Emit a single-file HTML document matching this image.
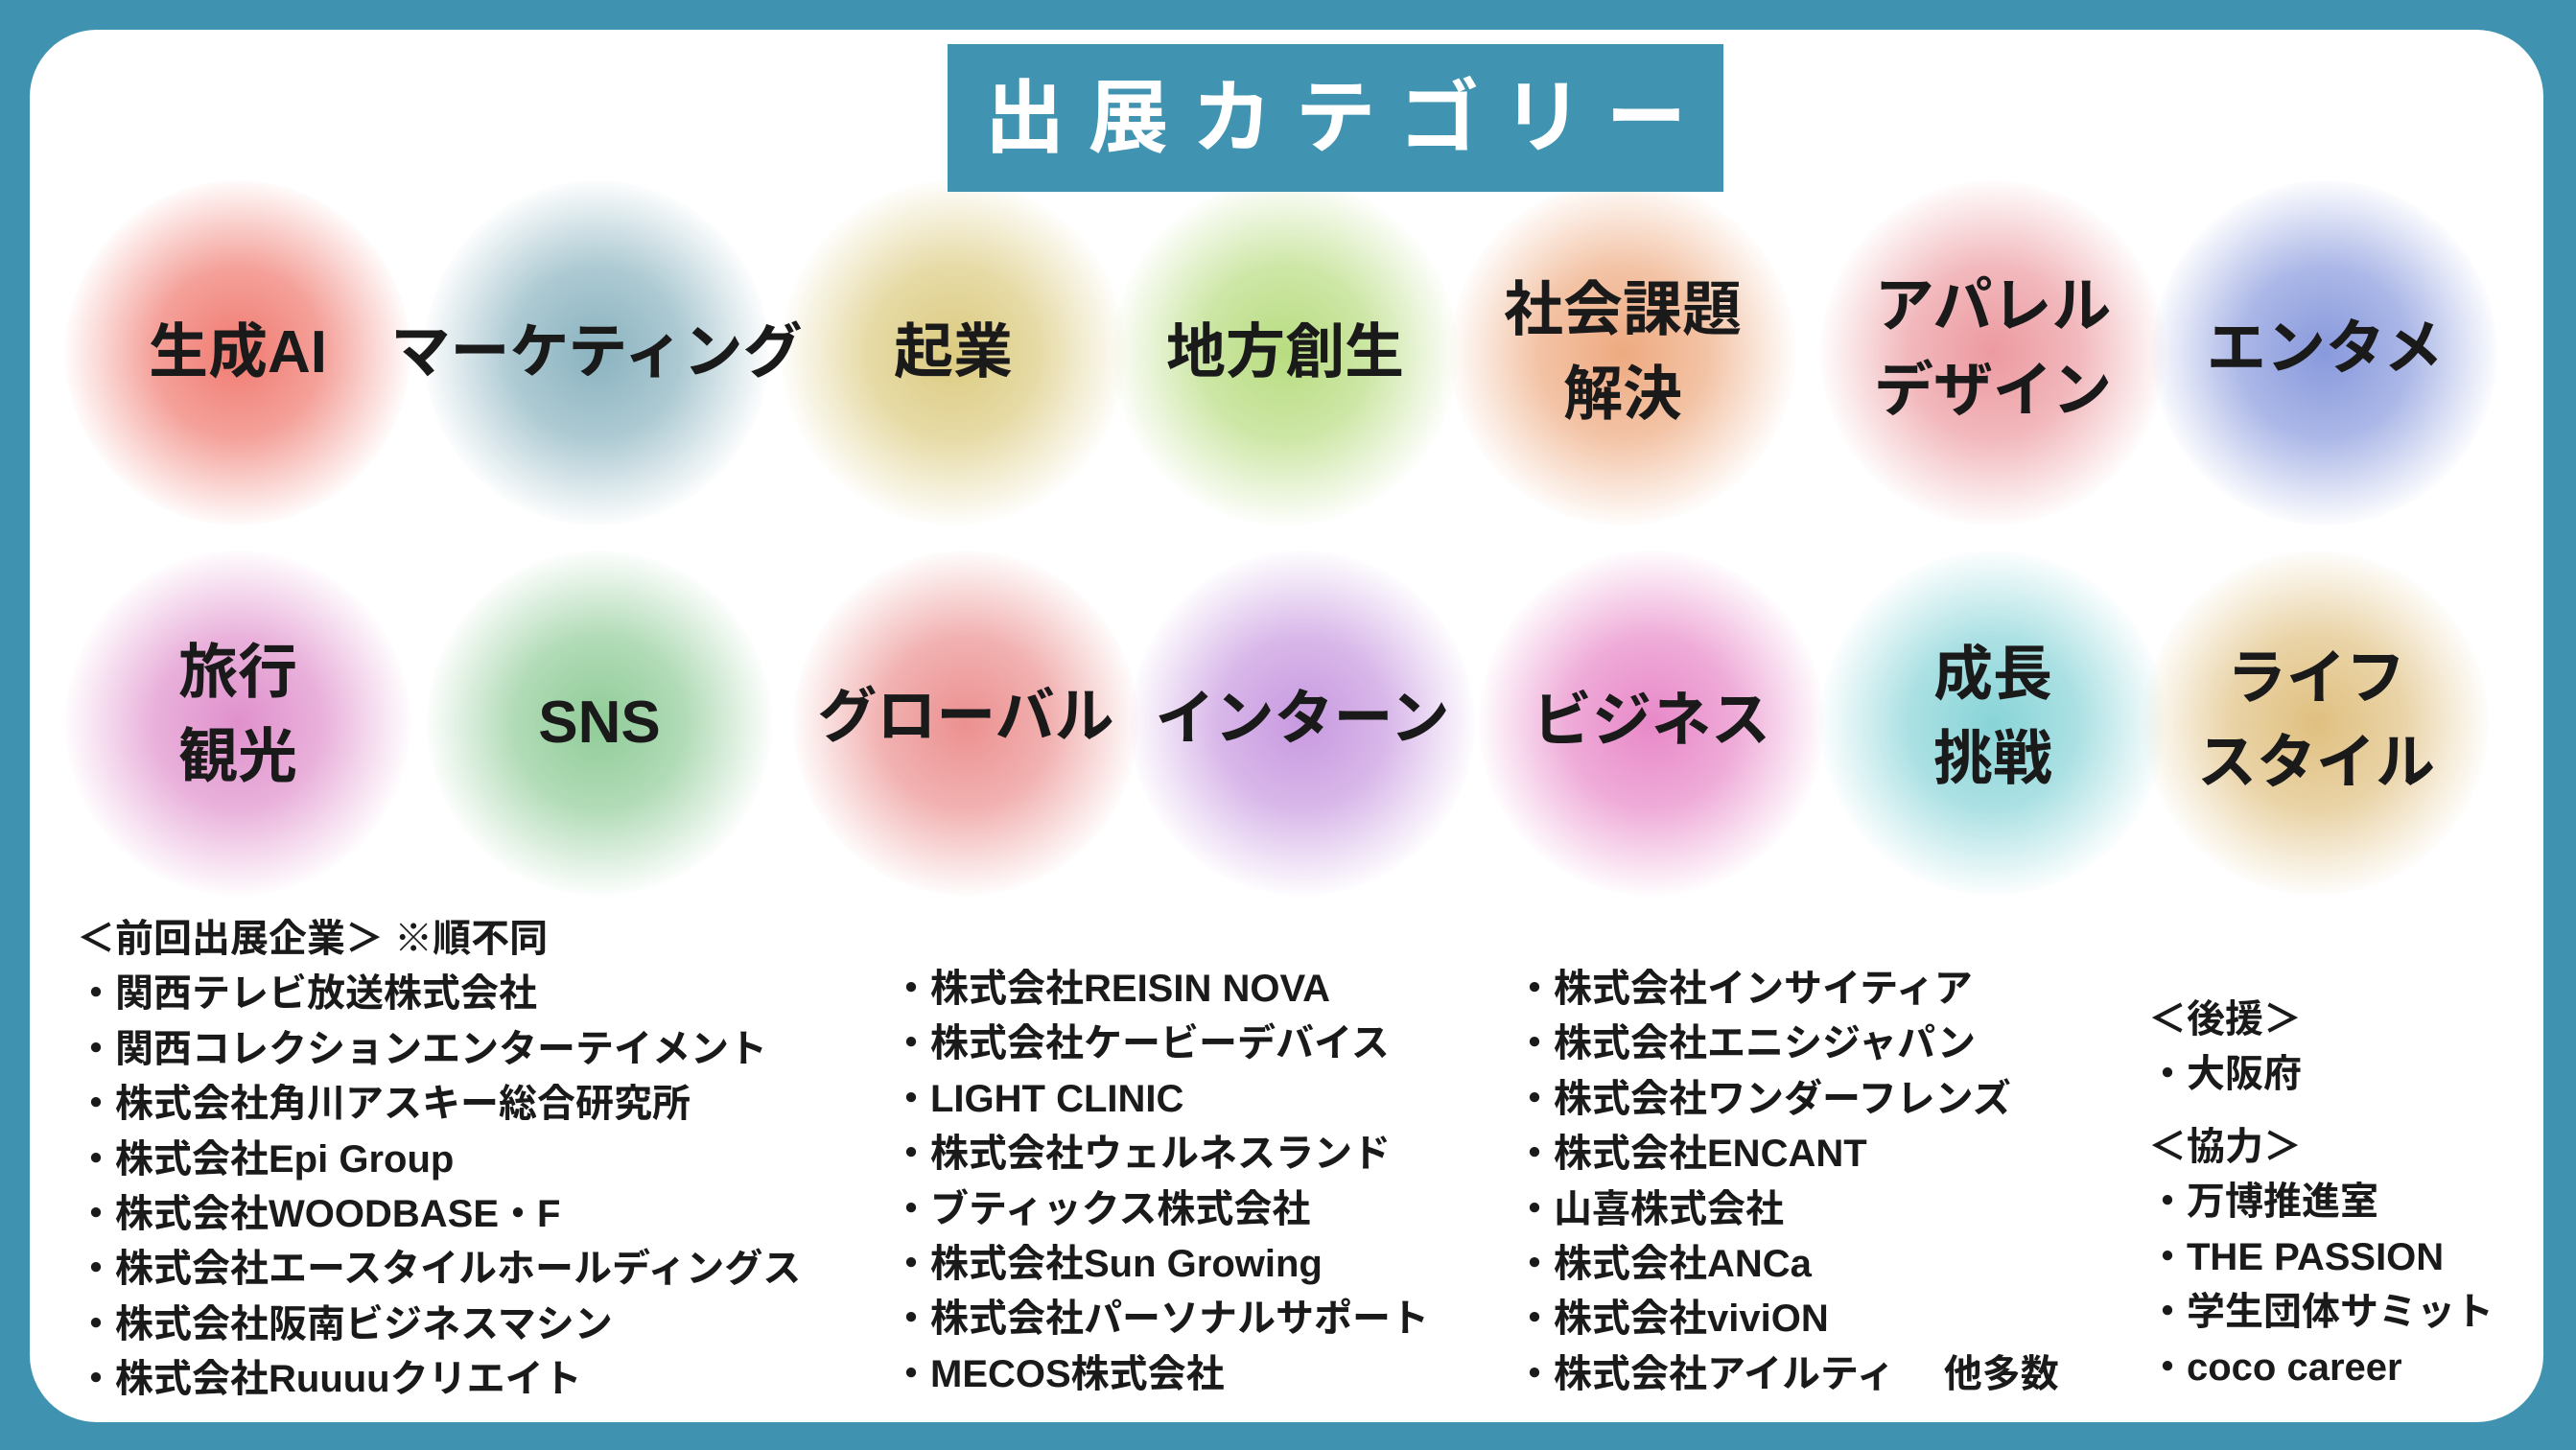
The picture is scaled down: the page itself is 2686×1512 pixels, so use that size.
<!DOCTYPE html>
<html><head><meta charset="utf-8"><style>
*{margin:0;padding:0;box-sizing:border-box}
body{width:2686px;height:1512px;background:#4093b0;position:relative;overflow:hidden;font-family:"Liberation Sans","Noto Sans CJK JP",sans-serif;font-weight:700;color:#1a1a1a}
.panel{position:absolute;left:31px;top:31px;width:2621px;height:1452px;background:#fff;border-radius:70px}
.title{position:absolute;z-index:5;left:988px;top:46px;width:809px;height:154px;background:#4194b1;color:#fff;font-size:84px;letter-spacing:24px;text-align:center;line-height:154px;padding-left:24px}
.c{position:absolute;width:360px;height:360px;border-radius:50%;transform:translate(-50%,-50%)}
.l{position:absolute;transform:translate(-50%,-50%);font-size:62px;line-height:88px;text-align:center;white-space:nowrap}
.t{position:absolute;font-size:40px;line-height:57.4px;white-space:nowrap}
</style></head><body>
<div class="panel"></div>
<div class="title">出展カテゴリー</div>

<div class="c" style="left:248px;top:368px;background:radial-gradient(circle,#f07a70 0%,rgba(240,122,112,.7) 35%,rgba(240,122,112,0) 72%)"></div>
<div class="c" style="left:622px;top:368px;background:radial-gradient(circle,#8ab3c0 0%,rgba(138,179,192,.7) 35%,rgba(138,179,192,0) 72%)"></div>
<div class="c" style="left:994px;top:368px;background:radial-gradient(circle,#dccb80 0%,rgba(220,203,128,.7) 35%,rgba(220,203,128,0) 72%)"></div>
<div class="c" style="left:1340px;top:368px;background:radial-gradient(circle,#b8dc80 0%,rgba(184,220,128,.7) 35%,rgba(184,220,128,0) 72%)"></div>
<div class="c" style="left:1692px;top:368px;background:radial-gradient(circle,#eeaa80 0%,rgba(238,170,128,.7) 35%,rgba(238,170,128,0) 72%)"></div>
<div class="c" style="left:2078px;top:368px;background:radial-gradient(circle,#ec9aa0 0%,rgba(236,154,160,.7) 35%,rgba(236,154,160,0) 72%)"></div>
<div class="c" style="left:2424px;top:368px;background:radial-gradient(circle,#8899dd 0%,rgba(136,153,221,.7) 35%,rgba(136,153,221,0) 72%)"></div>

<div class="c" style="left:248px;top:754px;background:radial-gradient(circle,#e090cc 0%,rgba(224,144,204,.7) 35%,rgba(224,144,204,0) 72%)"></div>
<div class="c" style="left:625px;top:754px;background:radial-gradient(circle,#90cc98 0%,rgba(144,204,152,.7) 35%,rgba(144,204,152,0) 72%)"></div>
<div class="c" style="left:1007px;top:754px;background:radial-gradient(circle,#ec9090 0%,rgba(236,144,144,.7) 35%,rgba(236,144,144,0) 72%)"></div>
<div class="c" style="left:1358px;top:754px;background:radial-gradient(circle,#c899e0 0%,rgba(200,153,224,.7) 35%,rgba(200,153,224,0) 72%)"></div>
<div class="c" style="left:1722px;top:754px;background:radial-gradient(circle,#e888c8 0%,rgba(232,136,200,.7) 35%,rgba(232,136,200,0) 72%)"></div>
<div class="c" style="left:2078px;top:754px;background:radial-gradient(circle,#88d4d8 0%,rgba(136,212,216,.7) 35%,rgba(136,212,216,0) 72%)"></div>
<div class="c" style="left:2415px;top:754px;background:radial-gradient(circle,#e0c080 0%,rgba(224,192,128,.7) 35%,rgba(224,192,128,0) 72%)"></div>

<div class="l" style="left:248px;top:368px">生成AI</div>
<div class="l" style="left:622px;top:368px">マーケティング</div>
<div class="l" style="left:994px;top:368px">起業</div>
<div class="l" style="left:1340px;top:368px">地方創生</div>
<div class="l" style="left:1692px;top:368px">社会課題<br>解決</div>
<div class="l" style="left:2078px;top:364px">アパレル<br>デザイン</div>
<div class="l" style="left:2424px;top:364px">エンタメ</div>

<div class="l" style="left:248px;top:746px">旅行<br>観光</div>
<div class="l" style="left:625px;top:754px">SNS</div>
<div class="l" style="left:1007px;top:748px">グローバル</div>
<div class="l" style="left:1358px;top:750px">インターン</div>
<div class="l" style="left:1722px;top:752px">ビジネス</div>
<div class="l" style="left:2078px;top:748px">成長<br>挑戦</div>
<div class="l" style="left:2415px;top:752px">ライフ<br>スタイル</div>

<div class="t" style="left:80px;top:951px">＜前回出展企業＞ ※順不同<br>・関西テレビ放送株式会社<br>・関西コレクションエンターテイメント<br>・株式会社角川アスキー総合研究所<br>・株式会社Epi Group<br>・株式会社WOODBASE・F<br>・株式会社エースタイルホールディングス<br>・株式会社阪南ビジネスマシン<br>・株式会社Ruuuuクリエイト</div>
<div class="t" style="left:930px;top:1003px">・株式会社REISIN NOVA<br>・株式会社ケービーデバイス<br>・LIGHT CLINIC<br>・株式会社ウェルネスランド<br>・ブティックス株式会社<br>・株式会社Sun Growing<br>・株式会社パーソナルサポート<br>・MECOS株式会社</div>
<div class="t" style="left:1580px;top:1003px">・株式会社インサイティア<br>・株式会社エニシジャパン<br>・株式会社ワンダーフレンズ<br>・株式会社ENCANT<br>・山喜株式会社<br>・株式会社ANCa<br>・株式会社viviON<br>・株式会社アイルティ　 他多数</div>
<div class="t" style="left:2240px;top:1035px">＜後援＞<br>・大阪府</div>
<div class="t" style="left:2240px;top:1168px">＜協力＞<br>・万博推進室<br>・THE PASSION<br>・学生団体サミット<br>・coco career</div>
</body></html>
